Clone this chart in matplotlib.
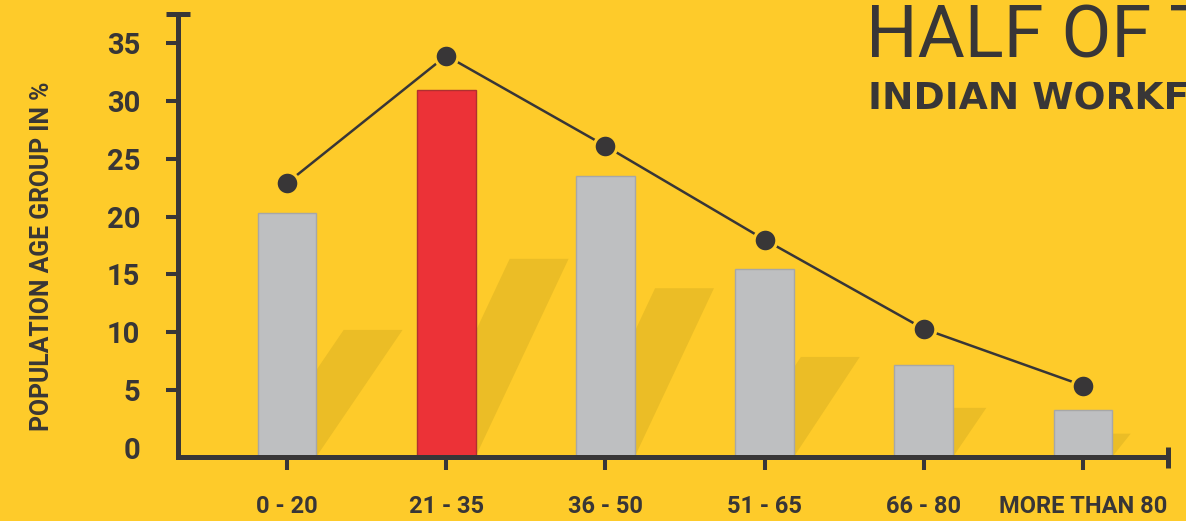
import numpy as np
import matplotlib
matplotlib.use("Agg")
import matplotlib.pyplot as plt
from matplotlib.patches import Polygon

# age groups and shares (%)
age_groups = ["0 - 20", "21 - 35", "36 - 50", "51 - 65", "66 - 80", "MORE THAN 80"]
bar_values = [20.3, 30.9, 23.5, 15.5, 7.2, 3.3]
line_values = [22.9, 33.9, 26.1, 18.0, 10.3, 5.4]
highlight = 1  # the 21 - 35 group

# shadow look: height fraction and horizontal slant (px per px) for each bar
shadow_frac = [0.52, 0.54, 0.60, 0.53, 0.53, 0.49]
shadow_slant = [0.68, 0.47, 0.47, 0.66, 0.68, 0.8]

BG = "#FECB2A"
SHADOW = "#EBBD26"
GREY = "#BEBFC1"
GREY_EDGE = "#A7A7A7"
RED = "#EC3237"
RED_EDGE = "#B0302F"
DARK = "#383637"

plt.rcParams["font.family"] = ["Roboto", "DejaVu Sans"]

W, H = 1186, 521
fig = plt.figure(figsize=(W / 100, H / 100), dpi=100, facecolor=BG)
ax = fig.add_axes([178 / W, 64.5 / H, 990 / W, 442.5 / H])
ax.set_facecolor(BG)

y0, y1 = -0.73, 37.5
x_lo, x_hi = -0.685, 5.534
ax.set_xlim(x_lo, x_hi)
ax.set_ylim(y0, y1)

x = np.arange(len(age_groups))
bw = 0.37

# pixel scale for the slanted shadows
px_x = 990 / (x_hi - x_lo)
px_y = 442.5 / (y1 - y0)

for i, v in enumerate(bar_values):
    hs = shadow_frac[i] * (v - y0)
    dx = shadow_slant[i] * hs * px_y / px_x
    l, r = x[i] - bw / 2, x[i] + bw / 2
    poly = Polygon([(l, y0), (r, y0), (r + dx, y0 + hs), (l + dx, y0 + hs)],
                   closed=True, facecolor=SHADOW, edgecolor="none", zorder=1)
    ax.add_patch(poly)

colors = [RED if i == highlight else GREY for i in x]
edges = [RED_EDGE if i == highlight else GREY_EDGE for i in x]
ax.bar(x, np.array(bar_values) - y0, bottom=y0, width=bw, color=colors,
       edgecolor=edges, linewidth=1.0, zorder=2)

ax.plot(x, line_values, color=DARK, linewidth=1.8, marker="o", markersize=16.3,
        markerfacecolor=DARK, markeredgecolor=BG, markeredgewidth=2.2,
        zorder=4, clip_on=False)

# axes frame
for side in ["top", "right"]:
    ax.spines[side].set_visible(False)
for side in ["left", "bottom"]:
    ax.spines[side].set_linewidth(3.6)
    ax.spines[side].set_color(DARK)
    ax.spines[side].set_capstyle("projecting")
    ax.spines[side].set_zorder(5)

ax.set_yticks(np.arange(0, 36, 5))
ax.tick_params(axis="y", direction="out", length=8.8, width=2.9, color=DARK,
               labelsize=21, labelcolor=DARK, pad=18.5)
for lab in ax.get_yticklabels():
    lab.set_fontweight("bold")
ax.yaxis.get_major_ticks()[0].tick1line.set_visible(False)

ax.set_xticks(x)
ax.set_xticklabels(age_groups, fontsize=17, fontweight="bold", color=DARK)
ax.tick_params(axis="x", direction="out", length=9, width=2.9, color=DARK, pad=19)

# cap at the top of the y axis and end mark on the x axis
ax.plot([-12 / 990, 12 / 990], [y1, y1], transform=ax.get_yaxis_transform(),
        color=DARK, linewidth=3.6, clip_on=False, solid_capstyle="butt", zorder=5)
ax.plot([x_hi, x_hi], [-11 / 442.5, 10 / 442.5], transform=ax.get_xaxis_transform(),
        color=DARK, linewidth=3.6, clip_on=False, solid_capstyle="butt", zorder=5)

fig.text(42 / W, 1 - 256 / H, "POPULATION AGE GROUP IN %", rotation=90,
         ha="center", va="center", fontsize=17.8, fontweight="bold", color=DARK)

# heading runs off the right edge of the figure
fig.text(866 / W, 1 - 57 / H, "HALF OF THE", fontsize=52, fontweight="normal",
         color=DARK, ha="left", va="baseline")
fig.text(868 / W, 1 - 110 / H, "INDIAN WORKFORCE", fontsize=27, fontweight="bold",
         family="DejaVu Sans", color=DARK, ha="left", va="baseline")

fig.savefig("out.png", dpi=100, facecolor=BG)
